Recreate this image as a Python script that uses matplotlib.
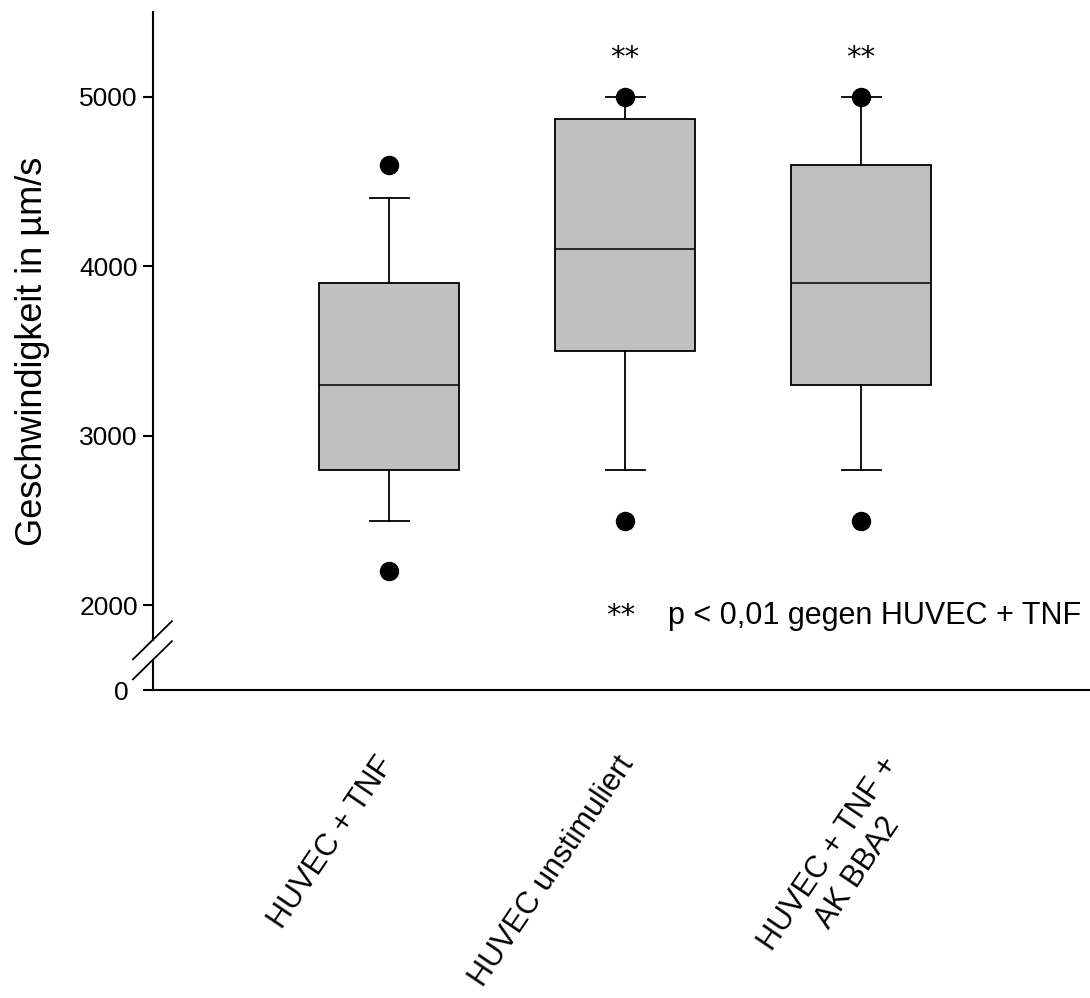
import numpy as np
import matplotlib
matplotlib.use("Agg")
import matplotlib.pyplot as plt
import matplotlib.transforms as mtransforms

plt.rcParams['font.family'] = ['Liberation Sans', 'DejaVu Sans']

# Geschwindigkeit (um/s) je Gruppe
gruppen = ["HUVEC + TNF", "HUVEC unstimuliert", "HUVEC + TNF +\nAK BBA2"]
median = [3300, 4100, 3900]
q1 = [2800, 3500, 3300]
q3 = [3900, 4870, 4600]
whisker_lo = [2500, 2800, 2800]
whisker_hi = [4400, 5000, 5000]
ausreisser = [[4600, 2200], [5000, 2500], [5000, 2500]]
signifikant = [False, True, True]

y_ticks = [2000, 3000, 4000, 5000]
y_unten = 1500   # Achsenbruch: hier steht die "0"
y_oben = 5500

stats = []
for i in range(len(gruppen)):
    stats.append(dict(med=median[i], q1=q1[i], q3=q3[i],
                      whislo=whisker_lo[i], whishi=whisker_hi[i],
                      fliers=ausreisser[i], label=gruppen[i]))

fig = plt.figure(figsize=(10.9, 9.98), dpi=100)
ax = fig.add_axes([0.1404, 0.3086, 0.8596, 0.6794])

pos = np.arange(1, len(gruppen) + 1)
ax.bxp(stats, positions=pos, widths=0.593, capwidths=0.165, patch_artist=True,
       boxprops=dict(facecolor='#c0c0c0', edgecolor='black', linewidth=1.3),
       medianprops=dict(color='black', linewidth=1.1),
       whiskerprops=dict(color='black', linewidth=1.3),
       capprops=dict(color='black', linewidth=1.3),
       flierprops=dict(marker='o', markerfacecolor='black', markeredgecolor='black',
                       markersize=13, linestyle='none'),
       zorder=3)

ax.set_xlim(0, 3.97)
ax.set_ylim(y_unten, y_oben)

ax.set_yticks([y_unten] + y_ticks)
ax.set_yticklabels(["0"] + [str(v) for v in y_ticks])
ax.tick_params(axis='y', direction='out', length=7, width=1.5, labelsize=19, pad=4)
# die "0" unter dem Bruch steht etwas weiter links
lbl0 = ax.get_yticklabels()[0]
lbl0.set_transform(lbl0.get_transform() +
                   mtransforms.ScaledTranslation(-0.09, 0, fig.dpi_scale_trans))

ax.set_xticks(pos)
ax.set_xticklabels(gruppen, rotation=56, ha='right', va='top',
                   rotation_mode='anchor', multialignment='center')
ax.tick_params(axis='x', length=0, labelsize=22, pad=44)
# Beschriftungen seitlich nachjustieren (Zoll)
versatz = [-0.14, -0.10, 0.19]
for lbl, dx in zip(ax.get_xticklabels(), versatz):
    lbl.set_transform(lbl.get_transform() +
                      mtransforms.ScaledTranslation(dx, 0, fig.dpi_scale_trans))

ax.set_ylabel("Geschwindigkeit in µm/s", fontsize=26)
ax.yaxis.set_label_coords(-0.11, 0.5)

for s in ['top', 'right', 'left']:
    ax.spines[s].set_visible(False)
ax.spines['bottom'].set_linewidth(1.5)

# linke Achse mit Bruch zwischen 0 und 2000
trans = ax.get_yaxis_transform()
ax.plot([0, 0], [1794, y_oben], color='black', lw=1.5, transform=trans, clip_on=False)
ax.plot([0, 0], [y_unten, 1676], color='black', lw=1.5, transform=trans, clip_on=False)
for y0, y1 in [(1681, 1906), (1563, 1788)]:
    ax.plot([-0.085, 0.08], [y0, y1], color='black', lw=1.3, clip_on=False)

for p, sig in zip(pos, signifikant):
    if sig:
        ax.text(p, 5180, "**", ha='center', va='baseline', fontsize=21,
                family='DejaVu Sans')

ax.text(1.919, 1888, "**", ha='left', va='baseline', fontsize=21, family='DejaVu Sans')
ax.text(2.182, 1888, "p < 0,01 gegen HUVEC + TNF", ha='left', va='baseline', fontsize=22)

fig.savefig("out.png", dpi=100)
